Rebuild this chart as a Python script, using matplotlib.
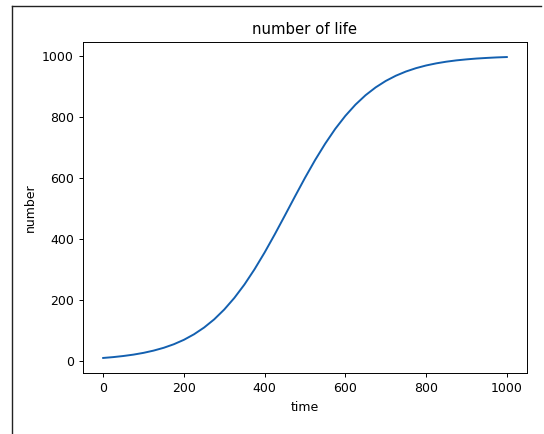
import matplotlib
matplotlib.use("Agg")
import matplotlib.pyplot as plt
from matplotlib.lines import Line2D

# valores (curva logística), passo de 25
tempo = [0, 25, 50, 75, 100, 125, 150, 175, 200, 225, 250, 275, 300, 325, 350,
         375, 400, 425, 450, 475, 500, 525, 550, 575, 600, 625, 650, 675, 700,
         725, 750, 775, 800, 825, 850, 875, 900, 925, 950, 975, 1000]
numero = [10, 12.8, 16.4, 20.9, 26.7, 34.1, 43.3, 54.9, 69.4, 87.5, 109.6,
          136.4, 168.7, 206.7, 250.6, 300.5, 355.5, 414.6, 476.2, 538.6, 599.9,
          658.1, 711.8, 760.4, 802.9, 839.6, 870.5, 896.1, 917.2, 934.3, 948.1,
          959.1, 967.9, 974.8, 980.3, 984.6, 987.9, 990.6, 992.6, 994.3, 995.5]

fig = plt.figure(figsize=(5.44, 4.34), dpi=100)
ax = fig.add_axes([83 / 544, 1 - 373 / 434, 444 / 544, 331 / 434])

ax.plot(tempo, numero, color="#1360b0", linewidth=1.4)
ax.set_title("number of life", fontsize=10.7)
ax.set_xlabel("time", fontsize=9)
ax.set_ylabel("number", fontsize=9)
ax.tick_params(labelsize=9, length=3.1, width=0.7)
for s in ax.spines.values():
    s.set_linewidth(0.7)

# moldura do print (esquerda e topo)
x0, y0 = 11.5 / 544, 1 - 5.5 / 434
fig.add_artist(Line2D([x0, x0], [0, y0], transform=fig.transFigure, color="#222222", linewidth=1.0))
fig.add_artist(Line2D([x0, 541 / 544], [y0, y0], transform=fig.transFigure, color="#222222", linewidth=1.0))

fig.savefig("out.png", dpi=100)
